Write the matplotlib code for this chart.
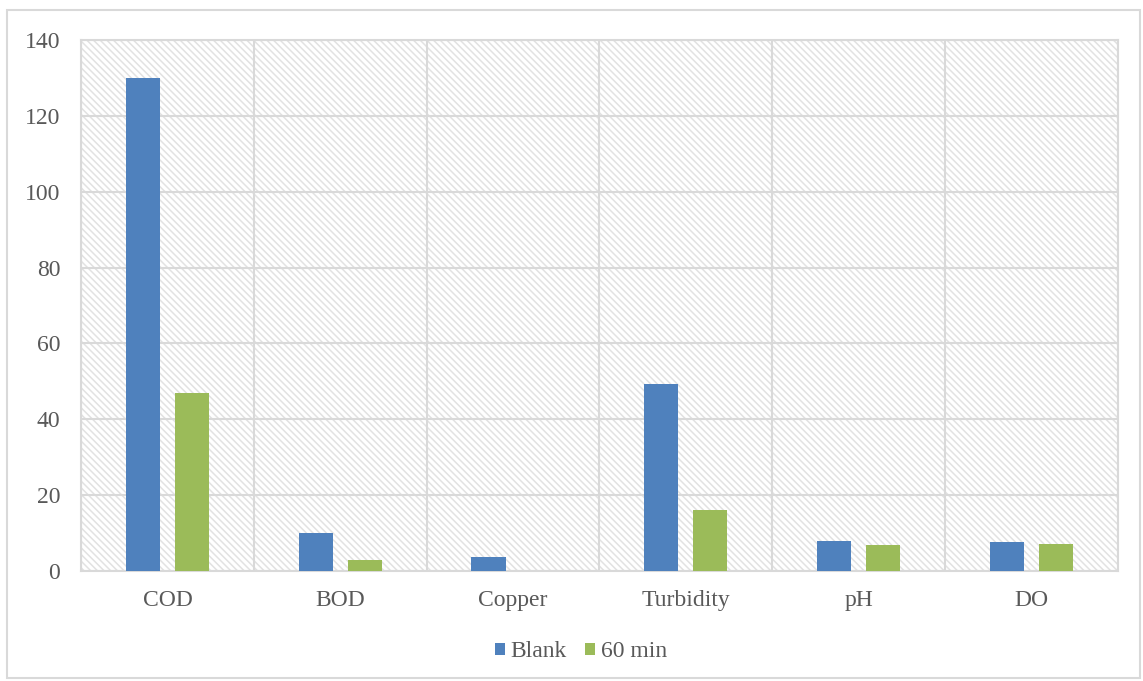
import numpy as np
import matplotlib.pyplot as plt
from matplotlib.patches import Rectangle

categories = ['COD', 'BOD', 'Copper', 'Turbidity', 'pH', 'DO']
blank = [130, 10, 3.7, 49.3, 7.9, 7.6]
min60 = [47, 2.9, 0.1, 16.1, 6.9, 7.1]

plt.rcParams['font.family'] = ['Liberation Serif', 'DejaVu Serif']
plt.rcParams['hatch.linewidth'] = 1.1

grid_col = '#d9d9d9'
text_col = '#595959'

fig = plt.figure(figsize=(11.43, 6.81), dpi=100)
fig.patches.append(Rectangle((0.006, 0.004), 0.991, 0.981, transform=fig.transFigure,
                             fill=False, edgecolor=grid_col, linewidth=1.5))
ax = fig.add_axes([0.0709, 0.1615, 0.9071, 0.7798])

# hatched plot area background
ax.add_patch(Rectangle((0, 0), 1, 1, transform=ax.transAxes, facecolor='white',
                       edgecolor='#e2e2e2', hatch='\\' * 5, linewidth=0, zorder=0))

x = np.arange(len(categories))
w = 0.197
ax.bar(x - 0.142, blank, w, color='#4f81bd', label='Blank', zorder=3)
ax.bar(x + 0.142, min60, w, color='#9bbb59', label='60 min', zorder=3)

ax.set_xlim(-0.5, len(categories) - 0.5)
ax.set_ylim(0, 140)
ax.set_yticks(range(0, 141, 20))
ax.set_xticks(x)
ax.set_xticklabels(categories)
ax.set_xticks(np.arange(-0.5, len(categories), 1), minor=True)
ax.grid(axis='y', color=grid_col, linewidth=1.5, zorder=1)
ax.grid(axis='x', which='minor', color=grid_col, linewidth=1.5, zorder=1)
ax.tick_params(which='both', length=0, labelsize=17, colors=text_col)
ax.tick_params(axis='x', pad=14)
ax.tick_params(axis='y', pad=15)
for s in ax.spines.values():
    s.set_color(grid_col)
    s.set_linewidth(1.5)

leg = fig.legend(loc='center', bbox_to_anchor=(0.508, 0.043), ncol=2, frameon=False,
                 fontsize=17, handlelength=0.43, handleheight=0.43, handletextpad=0.25,
                 columnspacing=0.75)
for t in leg.get_texts():
    t.set_color(text_col)

fig.savefig('out.png', dpi=100)
